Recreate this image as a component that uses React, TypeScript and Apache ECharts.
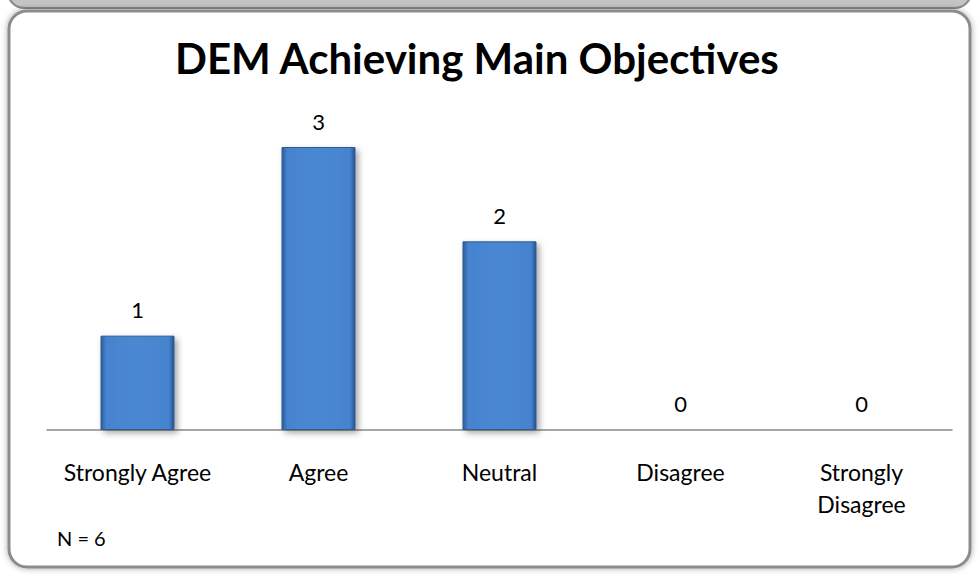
import React, { useEffect, useRef } from "react";
import * as echarts from "echarts";

const categories = ["Strongly Agree", "Agree", "Neutral", "Disagree", "Strongly\nDisagree"];
const counts = [1, 3, 2, 0, 0];
const titleText = "DEM Achieving Main Objectives";
const noteText = "N = 6";

export default function App() {
  const ref = useRef<HTMLDivElement>(null);
  useEffect(() => {
    document.body.style.margin = "0";
    const chart = echarts.init(ref.current!, null, { renderer: "svg" });
    const font = "Lato, 'Open Sans', sans-serif";
    chart.setOption({
      animation: false,
      backgroundColor: "#ffffff",
      title: {
        text: titleText,
        left: 170,
        top: 32,
        textStyle: { fontFamily: font, fontWeight: "bold", fontSize: 42, color: "#000" },
      },
      graphic: [
        {
          type: "rect",
          z: -10,
          shape: { x: 8, y: -40, width: 963, height: 48, r: 16 },
          style: { fill: "#c4c4c4", stroke: "#8a8a8a", lineWidth: 2 },
        },
        {
          type: "rect",
          z: -10,
          shape: { x: 9, y: 11, width: 961, height: 556, r: 18 },
          style: {
            fill: "#ffffff",
            stroke: "#8c8c8c",
            lineWidth: 3,
            shadowBlur: 6,
            shadowColor: "rgba(0,0,0,0.35)",
          },
        },
        {
          type: "text",
          left: 57,
          top: 528,
          style: { text: noteText, font: `20px ${font}`, fill: "#000" },
        },
      ],
      grid: { left: 47, right: 27, top: 147, bottom: 144 },
      xAxis: {
        type: "category",
        data: categories,
        axisLine: { show: true, lineStyle: { color: "#8a8a8a", width: 1.5 } },
        axisTick: { show: false },
        axisLabel: {
          margin: 26,
          fontFamily: font,
          fontSize: 23,
          color: "#000",
          lineHeight: 32,
          verticalAlign: "top",
          interval: 0,
        },
      },
      yAxis: {
        type: "value",
        min: 0,
        max: 3,
        show: false,
        splitLine: { show: false },
      },
      series: [
        {
          type: "bar",
          data: counts,
          barWidth: 74,
          itemStyle: {
            color: new echarts.graphic.LinearGradient(0, 0, 1, 0, [
              { offset: 0, color: "#2d5c9a" },
              { offset: 0.07, color: "#4683cf" },
              { offset: 0.5, color: "#4b88d4" },
              { offset: 0.93, color: "#4683cf" },
              { offset: 1, color: "#27538c" },
            ]),
            borderColor: "#2e5a94",
            borderWidth: 1,
            shadowBlur: 6,
            shadowColor: "rgba(0,0,0,0.35)",
            shadowOffsetX: 3,
            shadowOffsetY: 3,
          },
          label: {
            show: true,
            position: "top",
            distance: 15,
            fontFamily: font,
            fontSize: 22,
            color: "#000",
          },
        },
      ],
    });
    return () => chart.dispose();
  }, []);
  return <div ref={ref} style={{ width: 979, height: 574 }} />;
}
